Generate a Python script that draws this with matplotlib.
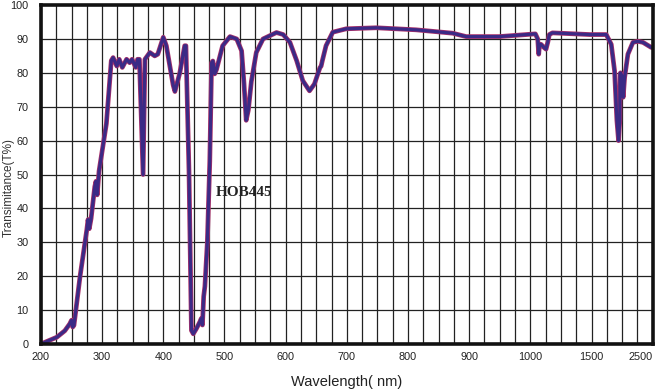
import numpy as np
import matplotlib
matplotlib.use('Agg')
import matplotlib.pyplot as plt

plt.rcParams['font.family'] = ['Liberation Sans', 'DejaVu Sans']

# axis labels on the bottom sit at equal spacing (broken / piecewise scale)
tick_nm = [200, 300, 400, 500, 600, 700, 800, 900, 1000, 1500, 2500]
tick_pos = list(range(len(tick_nm)))

# transmittance curve
wl = [200, 226, 239, 247, 250, 252, 254, 264, 275, 277, 279, 282, 288, 290, 292, 295,
      307, 315, 318, 324, 328, 333, 340, 345, 349, 355, 358, 361, 367, 370, 378, 386,
      391, 400, 405, 416, 419, 427, 435, 437, 442, 446, 449, 454, 460, 462, 464, 466,
      468, 472, 476, 479, 481, 484, 487, 497, 509, 520, 528, 532, 535.5, 539, 544, 552,
      563, 585, 596, 607, 618, 628, 639, 647, 656, 658, 660, 666, 677, 699, 748, 813,
      873, 895, 949, 1041, 1060, 1068, 1075, 1087, 1114, 1128, 1142, 1155, 1180, 1485,
      1740, 1822, 1876, 1914, 1941, 1962, 1966, 1974, 1998, 2017, 2040, 2094, 2176,
      2258, 2340, 2476, 2500]
trans = [0, 2, 3.9, 5.9, 7, 5, 5.5, 20, 33.7, 36.7, 34, 37, 46.4, 48, 44, 51,
         65, 83.6, 84.5, 82, 84, 81.6, 84, 83, 84, 81.6, 84, 84, 50, 84, 86, 85,
         85.5, 90.5, 88, 76.5, 74.5, 80, 88, 88, 51, 4, 3, 4.5, 6.6, 7.5, 5.6, 14,
         17, 30, 54, 83, 83.5, 79.7, 81, 88, 90.7, 90, 86.5, 76.7, 66, 69, 77.5, 86,
         90, 91.9, 91.3, 89, 83.6, 77.7, 74.7, 76.7, 81.5, 82, 83.6, 88, 92, 93, 93.3, 92.7,
         91.7, 90.7, 90.7, 91.5, 90, 85.5, 88.4, 88.4, 87.4, 87, 89, 91.3, 91.8, 91.3,
         91.3, 88.4, 80.6, 66, 60, 66, 79.8, 80, 79, 72.8, 78.6, 85.5, 89,
         89.3, 89, 87.5, 87.5]


def fwd(x):
    return np.interp(x, tick_nm, tick_pos)


def inv(p):
    return np.interp(p, tick_pos, tick_nm)


fig = plt.figure(figsize=(6.6, 3.9), dpi=100)
ax = fig.add_axes([0.062, 0.118, 0.927, 0.869])
ax.set_xscale('function', functions=(fwd, inv))
ax.set_xlim(200, 2500)
ax.set_ylim(0, 100)

# grid: 4 cells between labelled wavelengths, every 10 % on y
minor_x = inv(np.arange(0, 10.01, 0.25))
for xv in minor_x:
    ax.axvline(xv, color='#222222', lw=0.9, zorder=1)
for yv in range(10, 100, 10):
    ax.axhline(yv, color='#222222', lw=0.9, zorder=1)

# printed curve: reddish edge under a dark blue-violet line
ax.plot(wl, trans, color='#a8306a', lw=3.4, solid_joinstyle='round', zorder=3)
ax.plot(wl, trans, color='#3b2a86', lw=2.3, solid_joinstyle='round', zorder=4)

ax.set_xticks(tick_nm)
ax.set_xticklabels([str(t) for t in tick_nm])
ax.set_yticks(range(0, 101, 10))
ax.tick_params(length=0, labelsize=7.8, colors='#222222')
ax.tick_params(axis='x', pad=6)
ax.tick_params(axis='y', pad=9)
ax.get_xticklabels()[-1].set_horizontalalignment('right')

for s in ax.spines.values():
    s.set_linewidth(2.6)
    s.set_color('#111111')
    s.set_zorder(5)

ax.set_xlabel('Wavelength( nm)', fontsize=10.5, color='#222222', labelpad=9)
fig.text(0.013, 0.52, 'Transimitance(T%)', rotation=90, fontsize=8.5,
         color='#333333', ha='center', va='center')

ax.text(485, 44.7, 'HOB445', fontsize=11, fontweight='bold', family='Liberation Serif',
        color='#222222', va='center', ha='left', zorder=6)

fig.savefig('out.png', dpi=100)
